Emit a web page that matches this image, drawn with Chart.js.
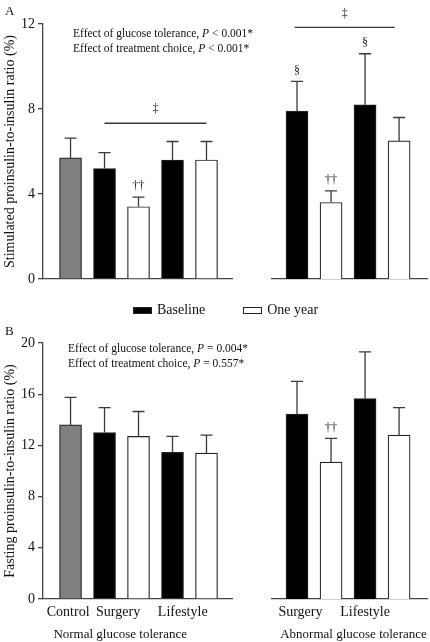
<!DOCTYPE html>
<html>
<head>
<meta charset="utf-8">
<script src="https://cdn.jsdelivr.net/npm/chart.js@4.4.1/dist/chart.umd.min.js"></script>
<style>
  body { margin: 0; background: #fff; width: 430px; height: 642px; position: relative; overflow: hidden;
         font-family: "Liberation Serif", "Times New Roman", serif; color: #111; }
  canvas { position: absolute; }
  .t { position: absolute; white-space: nowrap; }
  .note { font-size: 11.5px; line-height: 15px; }
  .legend { position: absolute; top: 302px; left: 133px; font-size: 14px; display: flex; align-items: center; }
  .box { display: inline-block; width: 19px; height: 7px; margin-right: 5px; box-sizing: border-box; border: 1px solid #222; }
</style>
</head>
<body>
<canvas id="aNormal" width="260" height="300" style="left:0;top:0"></canvas>
<canvas id="aAbnormal" width="170" height="300" style="left:260px;top:0"></canvas>
<canvas id="bNormal" width="260" height="312" style="left:0;top:330px"></canvas>
<canvas id="bAbnormal" width="170" height="312" style="left:260px;top:330px"></canvas>

<div class="t" style="left:5px;top:3px;font-size:13px">A</div>
<div class="t" style="left:5px;top:323px;font-size:13px">B</div>
<div class="t note" style="left:73px;top:26px">Effect of glucose tolerance, <i>P</i> &lt; 0.001*<br>Effect of treatment choice, <i>P</i> &lt; 0.001*</div>
<div class="t note" style="left:68px;top:341px">Effect of glucose tolerance, <i>P</i> = 0.004*<br>Effect of treatment choice, <i>P</i> = 0.557*</div>
<div class="legend">
  <span class="box" style="background:#000"></span><span>Baseline</span>
  <span class="box" style="background:#fff;margin-left:38px"></span><span>One year</span>
</div>

<script>
const FONT = '"Liberation Serif", "Times New Roman", serif';

// bar order: Control, Surgery baseline, Surgery one year, Lifestyle baseline, Lifestyle one year
const normalColors = ["#808080", "#000000", "#ffffff", "#000000", "#ffffff"];
const abnormalColors = ["#000000", "#ffffff", "#000000", "#ffffff"];

// Panel A: stimulated proinsulin-to-insulin ratio (%)
const aNormalMean = [5.7, 5.2, 3.4, 5.6, 5.6];
const aNormalSem = [0.93, 0.75, 0.45, 0.87, 0.87];
const aNormalMarks = ["", "", "††", "", ""];
const aAbnormalMean = [7.9, 3.6, 8.2, 6.5];
const aAbnormalSem = [1.4, 0.55, 2.4, 1.1];
const aAbnormalMarks = ["§", "††", "§", ""];

// Panel B: fasting proinsulin-to-insulin ratio (%)
const bNormalMean = [13.6, 13.0, 12.7, 11.45, 11.4];
const bNormalSem = [2.15, 1.95, 1.95, 1.25, 1.4];
const bNormalMarks = ["", "", "", "", ""];
const bAbnormalMean = [14.45, 10.7, 15.65, 12.8];
const bAbnormalSem = [2.55, 1.85, 3.65, 2.15];
const bAbnormalMarks = ["", "††", "", ""];

const normalCategories = ["Control", "Surgery", "Lifestyle"];
const normalCategoryAt = [-0.07, 1.4, 3.3];
const abnormalCategories = ["Surgery", "Lifestyle"];
const abnormalCategoryAt = [0.1, 2.0];

const errorBars = {
  id: "errorBars",
  afterDatasetsDraw(chart, args, opts) {
    const { ctx, scales: { x, y } } = chart;
    const ds = chart.data.datasets[0];
    ctx.save();
    ctx.strokeStyle = "#3a3a3a";
    ctx.lineWidth = 1.3;
    ds.data.forEach((p, i) => {
      const px = x.getPixelForValue(p.x);
      const top = y.getPixelForValue(p.y + opts.sem[i]);
      const base = y.getPixelForValue(p.y);
      ctx.beginPath();
      ctx.moveTo(px, base);
      ctx.lineTo(px, top);
      ctx.moveTo(px - 6, top);
      ctx.lineTo(px + 6, top);
      ctx.stroke();
      const m = opts.marks[i];
      if (m) {
        ctx.fillStyle = "#222";
        ctx.font = "12px " + FONT;
        ctx.textAlign = "center";
        ctx.textBaseline = "middle";
        ctx.fillText(m, px, top - 11);
      }
    });
    if (opts.bracket) {
      const b = opts.bracket;
      const yy = y.getPixelForValue(b.at);
      const x1 = x.getPixelForValue(b.from), x2 = x.getPixelForValue(b.to);
      ctx.beginPath();
      ctx.moveTo(x1, yy);
      ctx.lineTo(x2, yy);
      ctx.stroke();
      ctx.fillStyle = "#222";
      ctx.font = "12px " + FONT;
      ctx.textAlign = "center";
      ctx.textBaseline = "middle";
      ctx.fillText("‡", (x1 + x2) / 2, yy - 14);
    }
    if (opts.categories) {
      ctx.fillStyle = "#111";
      ctx.font = "14px " + FONT;
      ctx.textAlign = "center";
      ctx.textBaseline = "middle";
      opts.categories.forEach((c, i) => {
        ctx.fillText(c, x.getPixelForValue(opts.categoryAt[i]), chart.chartArea.bottom + 13);
      });
      ctx.font = "13px " + FONT;
      ctx.fillText(opts.group, x.getPixelForValue(opts.groupAt), chart.chartArea.bottom + 36);
    }
    ctx.restore();
  }
};

function makeChart(id, mean, sem, colors, cfg) {
  const yAxis = cfg.showY ? {
    min: 0, max: cfg.yMax,
    ticks: { stepSize: 4, font: { family: FONT, size: 14 }, color: "#111", padding: 3 },
    grid: { drawOnChartArea: false, tickLength: 5, color: "#444", lineWidth: 1.3 },
    border: { color: "#444", width: 1.3 },
    title: { display: true, text: cfg.yTitle, font: { family: FONT, size: 14 }, color: "#111", padding: { top: 2, bottom: 0 } },
    afterFit: s => { s.width = 43; }
  } : { display: false, min: 0, max: cfg.yMax };
  return new Chart(document.getElementById(id), {
    type: "bar",
    data: {
      datasets: [{
        data: mean.map((v, i) => ({ x: i, y: v })),
        backgroundColor: colors,
        borderColor: "#222",
        borderWidth: 1.2,
        barThickness: 22
      }]
    },
    options: {
      responsive: false,
      animation: false,
      layout: { padding: cfg.padding },
      plugins: {
        legend: { display: false },
        tooltip: { enabled: false },
        errorBars: {
          sem, marks: cfg.marks, bracket: cfg.bracket,
          categories: cfg.categories, categoryAt: cfg.categoryAt, group: cfg.group, groupAt: cfg.groupAt
        }
      },
      scales: {
        x: {
          type: "linear", min: cfg.xMin, max: cfg.xMax, offset: false,
          grid: { display: false },
          ticks: { display: false },
          border: { color: "#444", width: 1.3 },
          afterFit: s => { s.height = 0; }
        },
        y: yAxis
      }
    },
    plugins: [errorBars]
  });
}

makeChart("aNormal", aNormalMean, aNormalSem, normalColors, {
  showY: true, yMax: 12, yTitle: "Stimulated proinsulin-to-insulin ratio (%)",
  xMin: -0.81, xMax: 4.75, marks: aNormalMarks,
  bracket: { from: 1, to: 4, at: 7.33 },
  padding: { top: 24, right: 28, bottom: 21, left: 0 }
});
makeChart("aAbnormal", aAbnormalMean, aAbnormalSem, abnormalColors, {
  showY: false, yMax: 12, xMin: -0.735, xMax: 3.82, marks: aAbnormalMarks,
  bracket: { from: -0.07, to: 2.87, at: 11.84 },
  padding: { top: 24, right: 3, bottom: 21, left: 12 }
});
makeChart("bNormal", bNormalMean, bNormalSem, normalColors, {
  showY: true, yMax: 20, yTitle: "Fasting proinsulin-to-insulin ratio (%)",
  xMin: -0.81, xMax: 4.75, marks: bNormalMarks,
  categories: normalCategories, categoryAt: normalCategoryAt,
  group: "Normal glucose tolerance", groupAt: 1.46,
  padding: { top: 13, right: 28, bottom: 43, left: 0 }
});
makeChart("bAbnormal", bAbnormalMean, bAbnormalSem, abnormalColors, {
  showY: false, yMax: 20, xMin: -0.735, xMax: 3.82, marks: bAbnormalMarks,
  categories: abnormalCategories, categoryAt: abnormalCategoryAt,
  group: "Abnormal glucose tolerance", groupAt: 1.66,
  padding: { top: 13, right: 3, bottom: 43, left: 12 }
});
</script>
</body>
</html>
